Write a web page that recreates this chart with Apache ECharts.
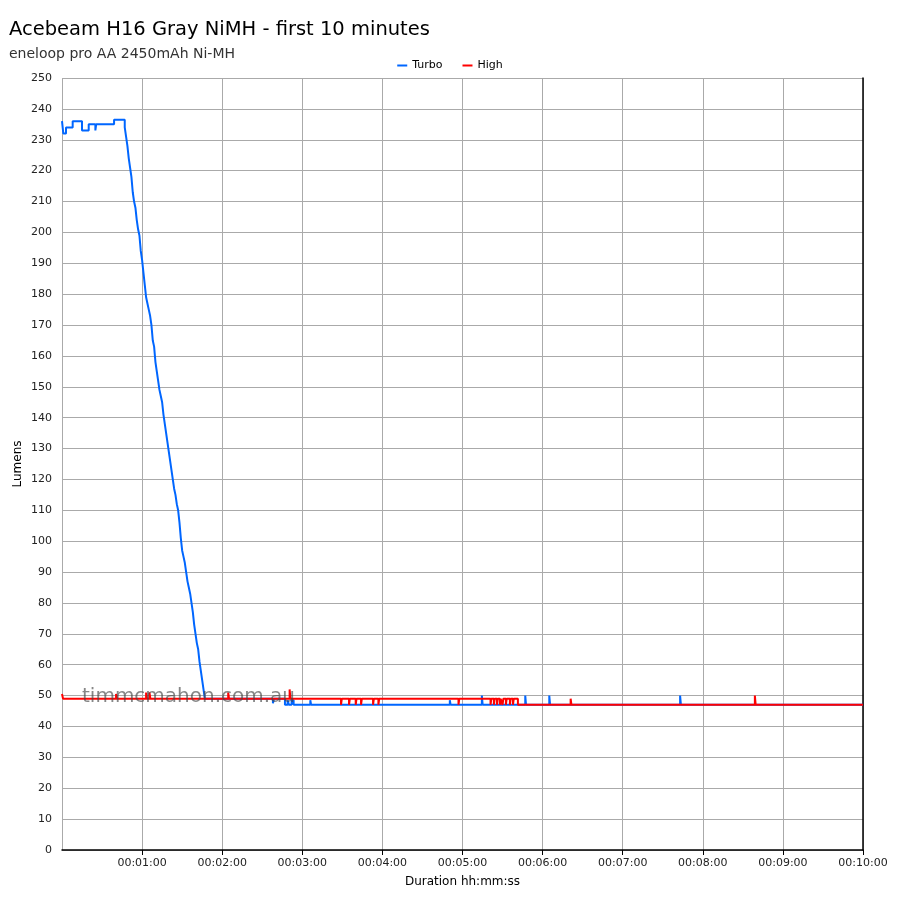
<!DOCTYPE html>
<html>
<head>
<meta charset="utf-8">
<script src="https://cdn.jsdelivr.net/npm/echarts@6/dist/echarts.min.js"></script>
<style>html,body{margin:0;padding:0;background:#fff}#c{width:900px;height:900px}</style>
</head>
<body>
<div id="c"></div>
<script>
var titleText = 'Acebeam H16 Gray NiMH - first 10 minutes';
var subText = 'eneloop pro AA 2450mAh Ni-MH';
var seriesNames = ['Turbo', 'High'];
var xTicks = [0, 60, 120, 180, 240, 300, 360, 420, 480, 540, 600];

var turboT = [0,1,3,8,15,20,25,25.6,39,47,48,49,50,51,52,53,54,55,56,57,58,59,60,61,62,63,64,65,66,67,68,69,70,71,72,73,74,75,76,77,78,79,80,81,82,83,84,85,86,87,88,89,90,91,92,93,94,95,96,97,98,99,100,101,102,103,104,105,106,107,158,158.8,167,169,170,172,173.5,186,186.6,290.5,291.1,314.5,315.1,347,347.6,365,365.6,463,463.6,600];
var turboV = [236,232,234,236,233,235,233,235,236.5,234,231,228,224,221,218,213,210,208,204,201,199,194,191,187,183,179,177,175,173,170,165,163,158,155,152,149,147,145,141,138,135,132,129,126,123,120,117,115,112,110,106,101,97,95,93,90,87,85,83,80,77,73,70,67,65,61,58,55,52,49,47.5,49,47,48.5,47,48.5,47,48.5,47,48.5,47,50,47,50,47,50,47,50,47,47];

var highT = [0,0.8,40.5,41.2,63,63.6,65.5,66.2,124.5,125.1,170.5,171.1,209,209.6,215,215.6,220,220.6,224,224.6,233,233.6,237,237.6,297,297.6,321,321.6,323.5,324.1,325.8,326.4,328,328.6,330,330.6,332.5,333.1,335.5,336.1,337.8,338.4,341.5,381,381.6,519,519.6,600];
var highV = [50.5,49,50.5,49,51,49,51,49,51,49,52,49,47,49,47,49,47,49,47,49,47,49,47,49,47,49,47,49,47,49,47,49,47,49,47,49,47,49,47,49,47,49,47,49,47,50,47,47];

function pairs(t, v) { return t.map(function (x, i) { return [x, v[i]]; }); }
function pad(n) { return (n < 10 ? '0' : '') + n; }
function fmt(s) { var h = Math.floor(s / 3600), m = Math.floor((s % 3600) / 60), sec = Math.round(s % 60); return pad(h) + ':' + pad(m) + ':' + pad(sec); }

var font = 'DejaVu Sans';
var chart = echarts.init(document.getElementById('c'));
chart.setOption({
  animation: false,
  backgroundColor: '#fff',
  textStyle: { fontFamily: font },
  title: {
    text: titleText, subtext: subText, left: 4, top: 15, itemGap: 7,
    textStyle: { fontFamily: font, fontSize: 19.5, fontWeight: 'normal', color: '#000' },
    subtextStyle: { fontFamily: font, fontSize: 14, color: '#333' }
  },
  legend: {
    data: seriesNames, top: 55, left: 'center', itemWidth: 10, itemHeight: 2, itemGap: 20,
    icon: 'rect',
    textStyle: { fontFamily: font, fontSize: 11, color: '#000' }
  },
  grid: { left: 62, right: 37, top: 78, bottom: 50, containLabel: false },
  xAxis: {
    type: 'value', min: xTicks[0], max: xTicks[xTicks.length - 1], interval: 60,
    name: 'Duration hh:mm:ss', nameLocation: 'middle', nameGap: 26,
    nameTextStyle: { fontFamily: font, fontSize: 12, color: '#000' },
    axisLine: { show: true, lineStyle: { color: '#000', width: 1.5 } },
    axisTick: { show: true, length: 5, lineStyle: { color: '#000' } },
    axisLabel: { showMinLabel: false, fontSize: 11, color: '#222', margin: 8, formatter: function (v) { return fmt(v); } },
    splitLine: { show: true, lineStyle: { color: '#aaa', width: 1 } }
  },
  yAxis: [{
    type: 'value', min: 0, max: 250, interval: 10,
    name: 'Lumens', nameLocation: 'middle', nameGap: 38, nameMoveOverlap: false,
    nameTextStyle: { fontFamily: font, fontSize: 12, color: '#000' },
    axisLine: { show: false }, axisTick: { show: false },
    axisLabel: { fontSize: 11, color: '#222', margin: 10 },
    splitLine: { show: true, lineStyle: { color: '#aaa', width: 1 } }
  }, {
    type: 'value', min: 0, max: 250, interval: 10, position: 'right',
    axisLine: { show: true, lineStyle: { color: '#000', width: 1.5 } },
    axisTick: { show: false }, axisLabel: { show: false }, splitLine: { show: false }
  }],
  graphic: [{
    type: 'text', left: 82, top: 687, z: 100,
    style: { text: 'timmcmahon.com.au', font: '20px "DejaVu Sans"', fill: 'rgba(70,70,70,0.65)' }
  }],
  series: [{
    name: seriesNames[0], type: 'line', step: 'end', showSymbol: false, symbol: 'none',
    data: pairs(turboT, turboV), color: '#0066ff',
    lineStyle: { width: 2, color: '#0066ff' }
  }, {
    name: seriesNames[1], type: 'line', step: 'end', showSymbol: false, symbol: 'none',
    data: pairs(highT, highV), color: '#ff0000',
    lineStyle: { width: 2, color: '#ff0000' }
  }]
});
</script>
</body>
</html>
